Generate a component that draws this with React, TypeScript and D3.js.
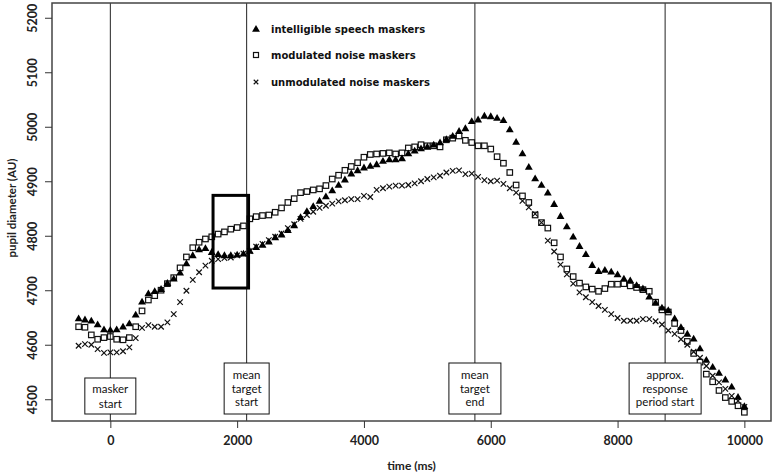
import * as d3 from 'd3';
import React, { useRef, useEffect } from 'react';

// time axis: one sample every 100 ms from -500 to 10000
const times: number[] = d3.range(-500, 10001, 100);

// intelligible speech maskers (filled triangles)
const speech: number[] = [
  4648, 4646, 4644, 4637, 4628,
  4627, 4628, 4633, 4639, 4655, 4679, 4694, 4698, 4702, 4713,
  4721, 4732, 4749, 4764, 4775, 4777, 4770, 4766, 4764, 4764,
  4765, 4767, 4772, 4779, 4783, 4789, 4797, 4802, 4810, 4819,
  4834, 4845, 4854, 4864, 4872, 4883, 4893, 4903, 4914, 4920,
  4925, 4928, 4931, 4937, 4940, 4940, 4942, 4951, 4956, 4960,
  4963, 4967, 4971, 4977, 4983, 4992, 4997, 5010, 5013, 5020,
  5019, 5016, 5012, 4995, 4972, 4951, 4926, 4905, 4893, 4879,
  4858, 4836, 4817, 4798, 4781, 4766, 4746, 4735, 4737, 4734,
  4729, 4721, 4718, 4709, 4703, 4688, 4677, 4668, 4663, 4648,
  4632, 4620, 4611, 4593, 4572, 4559, 4548, 4536, 4523, 4504,
  4487,
];

// modulated noise maskers (open squares)
const modulated: number[] = [
  4634, 4633, 4619, 4611, 4614,
  4616, 4611, 4610, 4614, 4634, 4663, 4683, 4691, 4701, 4713,
  4724, 4742, 4762, 4779, 4789, 4795, 4799, 4804, 4808, 4813,
  4816, 4819, 4832, 4836, 4838, 4839, 4844, 4852, 4862, 4869,
  4880, 4882, 4885, 4887, 4893, 4905, 4912, 4921, 4928, 4935,
  4945, 4950, 4951, 4952, 4953, 4951, 4953, 4962, 4964, 4968,
  4966, 4966, 4964, 4977, 4980, 4984, 4976, 4972, 4966, 4966,
  4960, 4946, 4934, 4917, 4894, 4874, 4862, 4839, 4825, 4815,
  4788, 4762, 4740, 4726, 4714, 4707, 4703, 4699, 4704, 4712,
  4712, 4713, 4709, 4706, 4702, 4699, 4679, 4665, 4661, 4640,
  4627, 4607, 4585, 4569, 4547, 4533, 4517, 4504, 4497, 4489,
  4477,
];

// unmodulated noise maskers (crosses)
const unmodulated: number[] = [
  4599, 4602, 4601, 4593, 4586,
  4587, 4587, 4589, 4596, 4613, 4632, 4637, 4634, 4634, 4642,
  4657, 4679, 4700, 4720, 4734, 4746, 4755, 4758, 4760, 4761,
  4765, 4768, 4773, 4781, 4786, 4793, 4799, 4805, 4815, 4822,
  4832, 4839, 4845, 4852, 4856, 4860, 4864, 4866, 4868, 4868,
  4874, 4872, 4885, 4888, 4891, 4893, 4893, 4894, 4897, 4901,
  4905, 4908, 4911, 4917, 4920, 4921, 4914, 4915, 4909, 4903,
  4901, 4902, 4896, 4888, 4880, 4865, 4853, 4841, 4825, 4792,
  4772, 4748, 4730, 4713, 4697, 4688, 4679, 4672, 4665, 4657,
  4650, 4645, 4645, 4645, 4648, 4648, 4644, 4638, 4627, 4621,
  4611, 4601, 4588, 4577, 4562, 4544, 4532, 4520, 4507, 4498,
  4487,
];

const xTicks: number[] = [0, 2000, 4000, 6000, 8000, 10000];
const yTicks: number[] = [4500, 4600, 4700, 4800, 4900, 5000, 5100, 5200];

// event markers (ms) and their label lines
const eventTimes: number[] = [0, 2150, 5750, 8750];
const eventLabels: string[][] = [
  ['masker', 'start'],
  ['mean', 'target', 'start'],
  ['mean', 'target', 'end'],
  ['approx.', 'response', 'period start'],
];
const eventBoxWidths: number[] = [51, 45, 52, 72];

// highlighted window (ms, AU)
const windowX: number[] = [1620, 2180];
const windowY: number[] = [4705, 4875];

const legendLabels: string[] = [
  'intelligible speech maskers',
  'modulated noise maskers',
  'unmodulated noise maskers',
];

const width = 774;
const height = 474;
const plot = { left: 52, right: 771, top: 3, bottom: 421 };
const labelFont = 'Lato, "Open Sans", sans-serif';

function App(): any {
  const ref = useRef(null);

  useEffect(() => {
    const svg = d3.select(ref.current);
    svg.selectAll('*').remove();

    const xScale = d3.scaleLinear().domain([-920, 10420]).range([plot.left, plot.right]);
    const yScale = d3.scaleLinear().domain([4461, 5228]).range([plot.bottom, plot.top]);

    svg.append('rect')
      .attr('width', width).attr('height', height).attr('fill', 'white');

    // event lines
    svg.selectAll('.event-line')
      .data(eventTimes)
      .enter().append('line')
      .attr('class', 'event-line')
      .attr('x1', (d: number) => xScale(d)).attr('x2', (d: number) => xScale(d))
      .attr('y1', plot.top).attr('y2', plot.bottom)
      .attr('stroke', '#222').attr('stroke-width', 1);

    const tri = d3.symbol().type(d3.symbolTriangle).size(27);
    const drawTri = (g: any, x: number, y: number) => {
      g.append('path').attr('d', tri() as string)
        .attr('transform', `translate(${x},${y})`)
        .attr('fill', 'black');
    };
    const drawSquare = (g: any, x: number, y: number, s: number) => {
      g.append('rect')
        .attr('x', x - s / 2).attr('y', y - s / 2)
        .attr('width', s).attr('height', s)
        .attr('fill', 'none').attr('stroke', '#111').attr('stroke-width', 1.2);
    };
    const drawCross = (g: any, x: number, y: number, s: number) => {
      const h = s / 2;
      g.append('path')
        .attr('d', `M${x - h},${y - h}L${x + h},${y + h}M${x - h},${y + h}L${x + h},${y - h}`)
        .attr('stroke', '#111').attr('stroke-width', 1.2).attr('fill', 'none');
    };

    const points = svg.append('g').attr('class', 'points');
    times.forEach((t: number, i: number) => {
      drawCross(points, xScale(t), yScale(unmodulated[i]), 5.5);
    });
    times.forEach((t: number, i: number) => {
      drawSquare(points, xScale(t), yScale(modulated[i]), 5.5);
    });
    times.forEach((t: number, i: number) => {
      drawTri(points, xScale(t), yScale(speech[i]));
    });

    // highlighted window
    svg.append('rect')
      .attr('x', xScale(windowX[0])).attr('y', yScale(windowY[1]))
      .attr('width', xScale(windowX[1]) - xScale(windowX[0]))
      .attr('height', yScale(windowY[0]) - yScale(windowY[1]))
      .attr('fill', 'none').attr('stroke', 'black').attr('stroke-width', 3);

    // event label boxes
    eventTimes.forEach((t: number, i: number) => {
      const lines = eventLabels[i];
      const boxBottom = plot.bottom - 7;
      const boxH = lines.length === 2 ? 36 : 51;
      const w = eventBoxWidths[i];
      const cx = xScale(t);
      svg.append('rect')
        .attr('x', cx - w / 2).attr('y', boxBottom - boxH)
        .attr('width', w).attr('height', boxH)
        .attr('fill', 'white').attr('stroke', '#111').attr('stroke-width', 1);
      const lineH = lines.length === 2 ? 15 : 13.6;
      const firstY = boxBottom - boxH / 2 - (lines.length - 1) * lineH / 2;
      lines.forEach((s: string, j: number) => {
        svg.append('text')
          .attr('x', cx).attr('y', firstY + j * lineH)
          .attr('dy', '0.35em')
          .attr('text-anchor', 'middle')
          .style('font-family', labelFont).style('font-size', '11.5px')
          .attr('fill', '#111')
          .text(s);
      });
    });

    // plot frame
    svg.append('rect')
      .attr('x', plot.left).attr('y', plot.top)
      .attr('width', plot.right - plot.left).attr('height', plot.bottom - plot.top)
      .attr('fill', 'none').attr('stroke', '#444').attr('stroke-width', 1.5);

    // axes
    const xAxis = svg.append('g')
      .attr('transform', `translate(0,${plot.bottom})`)
      .call(d3.axisBottom(xScale).tickValues(xTicks).tickSize(7).tickSizeOuter(0).tickPadding(8).tickFormat(d3.format('d')));
    xAxis.select('.domain').remove();
    xAxis.selectAll('line').attr('stroke', '#333');
    xAxis.selectAll('text')
      .style('font-family', labelFont).style('font-size', '12.5px').style('font-weight', 'bold')
      .attr('fill', '#222');

    const yAxis = svg.append('g')
      .attr('transform', `translate(${plot.left},0)`)
      .call(d3.axisLeft(yScale).tickValues(yTicks).tickSize(7).tickSizeOuter(0).tickFormat(d3.format('d')));
    yAxis.select('.domain').remove();
    yAxis.selectAll('line').attr('stroke', '#333');
    yAxis.selectAll('text')
      .attr('x', 0).attr('dy', '0.35em')
      .attr('text-anchor', 'middle')
      .attr('transform', (d: any) => `translate(-19,${yScale(d)}) rotate(-90)`)
      .attr('y', 0)
      .style('font-family', labelFont).style('font-size', '12.5px').style('font-weight', 'bold')
      .attr('fill', '#222');
    yAxis.selectAll('.tick').attr('transform', null);
    yAxis.selectAll('.tick line')
      .attr('y1', (d: any) => yScale(d)).attr('y2', (d: any) => yScale(d));

    // axis titles
    svg.append('text')
      .attr('x', (plot.left + plot.right) / 2).attr('y', 466)
      .attr('dy', '0.35em').attr('text-anchor', 'middle')
      .style('font-family', labelFont).style('font-size', '12px').style('font-weight', 'bold')
      .attr('fill', '#222')
      .text('time (ms)');
    svg.append('text')
      .attr('transform', `translate(12,208) rotate(-90)`)
      .attr('dy', '0.35em').attr('text-anchor', 'middle')
      .style('font-family', labelFont).style('font-size', '11.5px').style('font-weight', 'bold')
      .attr('fill', '#222')
      .text('pupil diameter (AU)');

    // legend
    const legendY = [29, 55, 82];
    const lg = svg.append('g');
    drawTri(lg, 256, legendY[0] + 0.5);
    drawSquare(lg, 256, legendY[1], 5);
    drawCross(lg, 256, legendY[2], 4.5);
    legendLabels.forEach((s: string, i: number) => {
      lg.append('text')
        .attr('x', 271).attr('y', legendY[i])
        .attr('dy', '0.35em')
        .style('font-family', '"DejaVu Sans", sans-serif').style('font-size', '10px').style('font-weight', 'bold')
        .attr('fill', '#111')
        .text(s);
    });
  }, []);

  return (
    <svg
      ref={ref}
      width={width}
      height={height}
      style={{ position: 'absolute', left: 0, top: 0 }}
    />
  );
}

export default App;
